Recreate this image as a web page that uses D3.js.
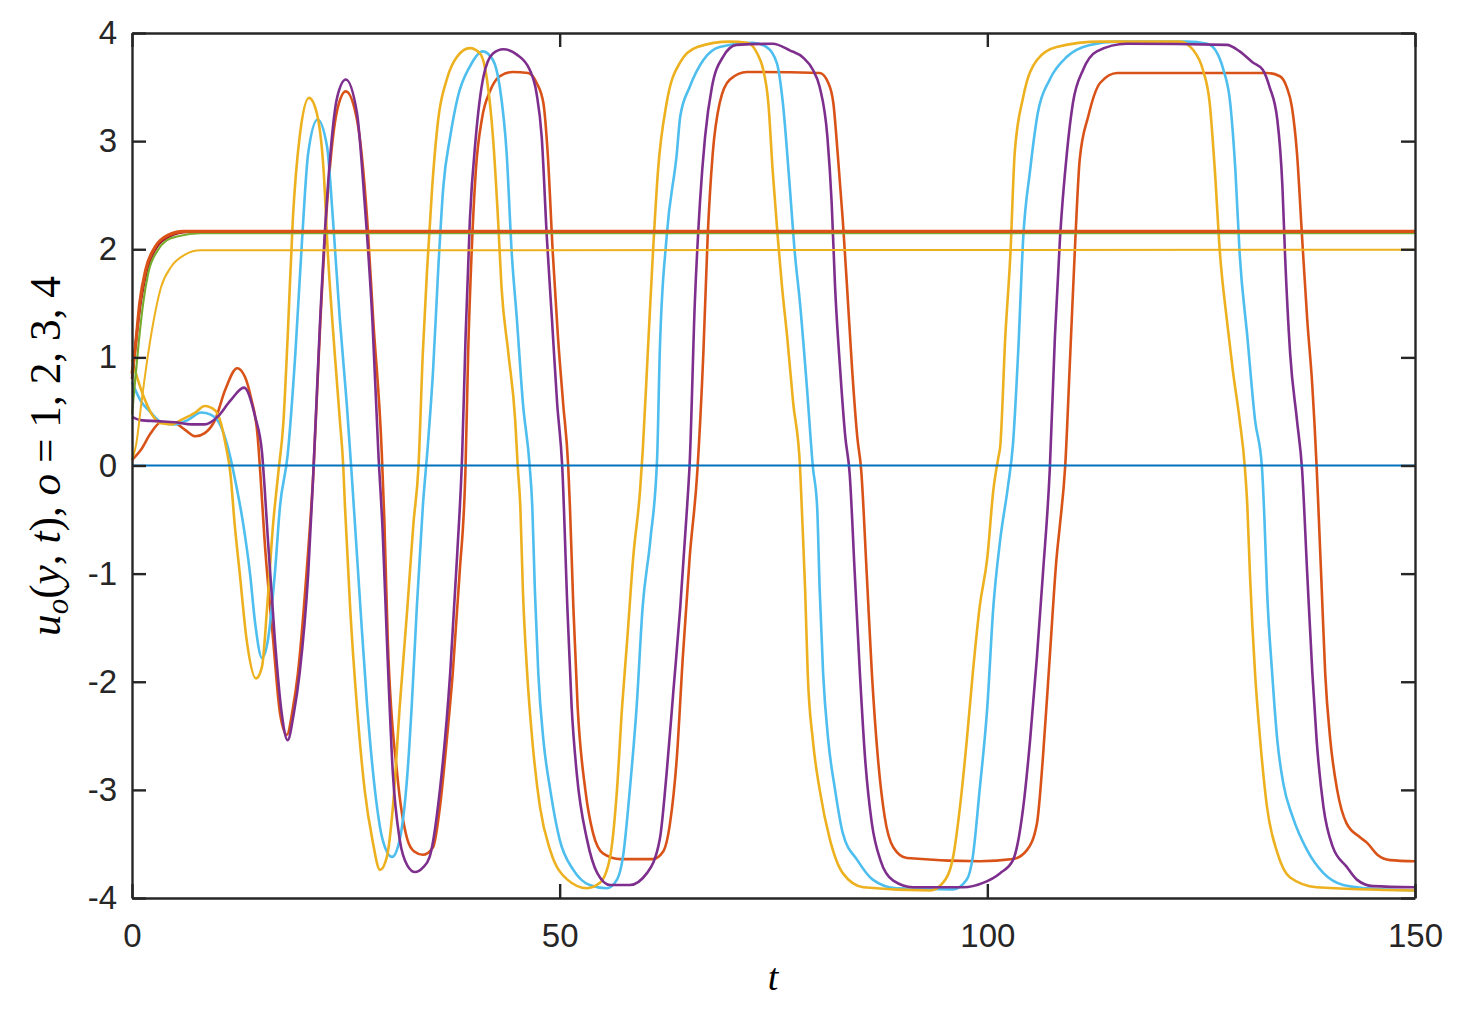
<!DOCTYPE html>
<html><head><meta charset="utf-8">
<script src="https://cdn.jsdelivr.net/npm/d3@7/dist/d3.min.js"></script>
<style>body{margin:0;background:#fff}</style>
</head><body>
<svg id="c" width="1457" height="1022"></svg>
<script>
const xTicks=[0,50,100,150];
const yTicks=[-4,-3,-2,-1,0,1,2,3,4];

const blueZero=[[0,0],[150,0]];
const orangeStatic=[[0,0.85],[0.4,1.1],[0.9,1.5],[1.6,1.81],[2.7,2.02],[4.2,2.13],[6,2.165],[150,2.165]];
const darkRedStatic=[[0,0.8],[0.6,1.25],[1.1,1.55],[1.8,1.82],[2.9,2.02],[4.4,2.12],[6.5,2.16],[150,2.16]];
const greenStatic=[[0,0.47],[0.3,0.73],[0.8,1.15],[1.3,1.5],[1.9,1.78],[3,1.99],[4,2.08],[5.4,2.12],[8,2.148],[150,2.148]];
const yellowStatic=[[0,0.05],[0.5,0.2],[1.1,0.58],[1.9,1.04],[2.7,1.41],[3.4,1.65],[4.6,1.84],[6.2,1.95],[8,1.99],[150,1.995]];

const orangeOsc=[[0,0.05],[1,0.14],[2.2,0.3],[3.4,0.4],[5,0.39],[6.2,0.33],[7.4,0.27],[8.5,0.3],[9.7,0.42],[10.9,0.7],[12.3,0.9],[13.2,0.82],[13.9,0.63],[14.7,0.26],[15,-0.07],[15.5,-0.69],[16.5,-1.61],[17.3,-2.29],[18.1,-2.49],[18.8,-2.25],[19.4,-1.92],[20.4,-1.0],[21.2,-0.07],[22,1.3],[22.9,2.52],[24,3.29],[25,3.46],[26.3,3.2],[27.5,2.27],[28.2,1.35],[29.2,0.12],[29.5,-0.5],[29.9,-1.61],[31,-2.85],[32.2,-3.46],[33,-3.57],[34,-3.6],[35.2,-3.53],[36,-3.16],[36.8,-2.54],[37.5,-1.92],[38.3,-1.0],[39,0.0],[39.3,1.04],[39.7,1.96],[40.2,2.73],[40.9,3.2],[41.9,3.47],[43,3.6],[44.5,3.64],[46.3,3.63],[47.3,3.54],[48.1,3.35],[48.6,2.89],[49.2,1.96],[49.8,1.19],[50.4,0.58],[51,-0.01],[51.2,-0.38],[51.6,-1.31],[52.1,-2.23],[53,-3.0],[53.9,-3.4],[55.1,-3.59],[57.1,-3.64],[60.9,-3.64],[62.1,-3.57],[62.9,-3.31],[63.7,-2.7],[64.4,-1.77],[65.2,-0.85],[66.1,-0.05],[66.8,1.04],[67.3,2.11],[67.9,2.89],[68.7,3.35],[69.9,3.57],[71.9,3.64],[80.4,3.63],[81.4,3.54],[82,3.35],[82.5,2.89],[83.1,2.27],[83.6,1.65],[84.2,0.88],[84.8,0.26],[85.25,-0.04],[85.9,-1.0],[86.5,-1.92],[87.2,-2.7],[88,-3.25],[89,-3.53],[90.6,-3.63],[99.1,-3.66],[103,-3.64],[104.6,-3.56],[105.8,-3.31],[106.5,-2.7],[107.3,-1.77],[108.1,-0.85],[108.5,-0.54],[109.1,-0.01],[109.7,1.04],[110.3,2.11],[110.8,2.83],[111.8,3.23],[113.2,3.54],[115.2,3.63],[132.7,3.63],[134.2,3.6],[135,3.5],[135.6,3.32],[136.2,2.89],[136.8,2.11],[137.4,1.35],[138,0.73],[138.5,-0.01],[138.7,-0.38],[139.1,-1.15],[139.5,-1.92],[140.1,-2.54],[140.9,-3.0],[142,-3.31],[143.6,-3.44],[144.4,-3.49],[145.6,-3.6],[147.1,-3.65],[150,-3.66]];

const cyanOsc=[[0,0.77],[1,0.6],[2.2,0.49],[3.4,0.4],[5,0.38],[6.5,0.42],[8.1,0.49],[9.2,0.47],[10.4,0.36],[11.2,0.17],[12.1,-0.15],[13,-0.54],[13.8,-1.0],[14.4,-1.46],[15.2,-1.78],[15.9,-1.61],[16.7,-1.0],[17.3,-0.38],[18.2,0.1],[19.1,1.04],[19.9,2.11],[20.6,2.89],[21.7,3.2],[22.8,2.95],[23.5,2.27],[24.3,1.35],[25.1,0.58],[25.7,-0.1],[26.7,-1.31],[27.5,-2.23],[28.4,-3.0],[29.3,-3.46],[30.4,-3.62],[31.3,-3.46],[32.2,-2.85],[32.7,-2.23],[33.3,-1.31],[34,-0.38],[34.6,0.2],[35.2,0.88],[35.8,1.81],[36.4,2.58],[37.2,3.04],[38.1,3.41],[39.5,3.69],[41,3.83],[42.2,3.75],[43,3.5],[43.8,2.89],[44.4,1.96],[45,1.35],[45.7,0.58],[46.5,-0.01],[46.8,-0.38],[47.1,-1.15],[47.5,-1.92],[48.1,-2.54],[48.9,-3.0],[50,-3.46],[51.6,-3.74],[53.5,-3.88],[55.5,-3.91],[56.7,-3.83],[57.4,-3.62],[58.2,-3.0],[59,-2.23],[59.7,-1.31],[60.6,-0.69],[61.4,0.08],[61.7,1.04],[62.5,2.11],[63.7,2.89],[64.1,3.23],[65.2,3.5],[66.8,3.75],[68.7,3.87],[72.6,3.91],[74.2,3.87],[75.4,3.72],[76.1,3.35],[76.9,2.58],[77.5,1.96],[78.1,1.5],[78.9,0.73],[79.6,-0.01],[80.1,-0.38],[80.4,-1.15],[80.8,-1.92],[81.4,-2.54],[82.2,-3.0],[83.1,-3.4],[84.8,-3.65],[86.6,-3.83],[89.4,-3.91],[96,-3.92],[97.6,-3.83],[98.3,-3.62],[99.1,-3.0],[100,-2.23],[100.7,-1.31],[101.5,-0.69],[102.4,-0.2],[103,0.2],[103.6,1.04],[104.2,2.11],[105,2.73],[105.9,3.26],[107.3,3.57],[109.3,3.78],[112,3.89],[115.2,3.92],[123.3,3.92],[125.7,3.9],[126.9,3.81],[127.6,3.66],[128.4,3.35],[129,2.73],[129.5,1.96],[130.4,1.19],[131.3,0.42],[132.1,-0.01],[132.4,-0.5],[132.7,-1.15],[133.3,-1.92],[133.9,-2.54],[134.6,-2.94],[135.7,-3.25],[137.4,-3.56],[139.3,-3.77],[141.6,-3.88],[144.4,-3.91],[150,-3.93]];

const yellowOsc=[[0,0.98],[0.7,0.79],[1.5,0.61],[2.2,0.49],[3.4,0.39],[4.6,0.38],[5.7,0.42],[7.4,0.49],[8.5,0.55],[9.7,0.51],[10.4,0.39],[11,0.17],[11.5,-0.07],[12,-0.54],[12.6,-1.0],[13.4,-1.61],[14.5,-1.97],[15.2,-1.86],[15.8,-1.31],[16.5,-0.54],[17.1,-0.07],[17.7,0.4],[18.2,1.19],[18.8,2.27],[19.6,3.04],[20.7,3.4],[21.6,3.26],[22.4,2.73],[22.9,1.96],[23.7,1.04],[24.3,0.42],[24.7,-0.01],[24.9,-0.38],[25.5,-1.31],[26.3,-2.23],[27.2,-3.0],[28.1,-3.46],[29,-3.74],[29.8,-3.62],[30.5,-3.16],[31.3,-2.23],[32.2,-1.31],[32.9,-0.54],[33.5,0.0],[34,1.04],[34.5,1.81],[35.1,2.58],[35.8,3.2],[36.8,3.57],[38,3.78],[39.5,3.86],[40.7,3.81],[41.5,3.57],[42.2,3.04],[42.8,2.27],[43.2,1.65],[44,1.04],[44.8,0.42],[45.1,-0.01],[45.4,-0.38],[45.7,-1.15],[46.2,-1.92],[46.8,-2.54],[47.7,-3.16],[48.9,-3.56],[50.9,-3.83],[53.2,-3.91],[54.7,-3.86],[55.9,-3.62],[56.7,-3.0],[57.3,-2.23],[57.9,-1.61],[58.6,-0.85],[59.4,-0.23],[59.7,0.12],[60.3,1.04],[60.9,1.96],[61.5,2.73],[62.5,3.35],[64.1,3.73],[66.1,3.87],[69.9,3.92],[71.9,3.91],[73.1,3.81],[73.8,3.66],[74.4,3.35],[74.9,2.73],[75.5,2.11],[76,1.65],[76.6,1.19],[77.3,0.58],[78.1,-0.01],[78.3,-0.38],[78.7,-1.15],[79,-1.92],[79.6,-2.54],[80.4,-3.0],[81.6,-3.46],[83.1,-3.77],[85.5,-3.9],[93.3,-3.93],[94.8,-3.86],[96,-3.62],[96.8,-3.16],[97.6,-2.54],[98.3,-1.92],[99.1,-1.31],[100,-0.85],[100.7,-0.23],[101.3,0.08],[101.5,0.17],[102.1,1.19],[102.7,1.96],[103.2,2.89],[104.2,3.41],[105.8,3.75],[108.1,3.87],[113.2,3.92],[122.5,3.92],[124.1,3.84],[125.2,3.66],[126,3.35],[126.6,2.73],[127.2,1.96],[128,1.35],[128.7,0.88],[129.5,0.42],[130.1,-0.01],[130.4,-0.38],[130.7,-1.0],[131.3,-1.92],[131.9,-2.54],[132.7,-3.16],[133.9,-3.58],[135.4,-3.81],[138.5,-3.9],[150,-3.93]];

const purpleOsc=[[0,0.45],[1,0.42],[3,0.41],[5,0.4],[7,0.38],[8.5,0.38],[10,0.45],[11.5,0.6],[13.1,0.72],[14.4,0.45],[15.2,0.12],[15.5,-0.2],[15.9,-0.7],[16.7,-1.61],[17.5,-2.29],[18.2,-2.54],[18.9,-2.3],[19.6,-1.92],[20.6,-1.0],[21.2,-0.07],[22,1.35],[22.9,2.58],[24,3.41],[25,3.57],[26.3,3.26],[27.2,2.43],[28.1,1.35],[28.8,0.12],[29.3,-0.6],[29.8,-1.61],[30.5,-2.85],[31.3,-3.46],[32.2,-3.7],[33.1,-3.76],[34,-3.72],[34.8,-3.62],[36,-3.0],[37.2,-1.92],[38,-0.85],[38.6,0.1],[39,1.19],[39.5,2.27],[40.2,3.04],[41.1,3.6],[42.2,3.81],[43.4,3.85],[45,3.8],[46.5,3.66],[47.3,3.44],[47.9,3.04],[48.5,2.11],[49.1,1.35],[49.7,0.58],[50.3,-0.01],[50.9,-1.31],[51.4,-2.23],[52,-2.85],[53.2,-3.46],[54.4,-3.77],[55.9,-3.88],[58.2,-3.88],[60.2,-3.77],[61.7,-3.46],[62.5,-2.85],[63.3,-2.08],[64.1,-1.31],[64.9,-0.38],[65.2,0.02],[65.8,1.5],[66.4,2.43],[67,3.04],[67.8,3.5],[69.1,3.78],[70.7,3.89],[74.9,3.9],[76.9,3.84],[78.5,3.77],[79.6,3.66],[80.4,3.5],[81.3,3.04],[81.8,2.43],[82.2,1.65],[82.8,0.88],[83.4,0.26],[83.9,-0.07],[84.5,-1.0],[85.1,-1.92],[85.7,-2.7],[86.5,-3.31],[87.5,-3.65],[89,-3.84],[91.3,-3.9],[97.2,-3.9],[99.5,-3.86],[101.5,-3.77],[103,-3.65],[104.2,-3.16],[105,-2.54],[105.8,-1.77],[106.5,-1.0],[107.3,-0.04],[107.9,1.19],[108.5,2.11],[109.3,2.89],[110,3.35],[111.2,3.66],[112.8,3.83],[116.3,3.9],[128,3.89],[129.5,3.83],[131,3.73],[132.2,3.66],[133,3.5],[133.9,3.2],[134.5,2.58],[134.8,1.96],[135.4,1.04],[136.2,0.42],[136.8,-0.04],[137.4,-1.0],[138,-1.92],[138.5,-2.54],[139.3,-3.16],[140.4,-3.53],[142,-3.71],[143.2,-3.83],[145.1,-3.89],[150,-3.9]];

const series=[
  {data:orangeOsc,color:"#D95319",w:2.6},
  {data:cyanOsc,color:"#4DBEEE",w:2.6},
  {data:yellowOsc,color:"#EDB120",w:2.6},
  {data:purpleOsc,color:"#7E2F8E",w:2.6},
  {data:darkRedStatic,color:"#A2142F",w:2.6},
  {data:greenStatic,color:"#77AC30",w:2.2},
  {data:yellowStatic,color:"#EDB120",w:2},
  {data:orangeStatic,color:"#D95319",w:3.2},
  {data:blueZero,color:"#0072BD",w:2}
];

const L=132,R=1415,T=33,B=898;
const svg=d3.select("#c");
const x=d3.scaleLinear().domain([0,150]).range([L,R]);
const y=d3.scaleLinear().domain([-4,4]).range([B,T]);
const line=d3.line().x(d=>x(d[0])).y(d=>y(d[1])).curve(d3.curveMonotoneX);

const g=svg.append("g");
series.forEach(s=>{
  g.append("path").attr("d",line(s.data)).attr("fill","none")
   .attr("stroke",s.color).attr("stroke-width",s.w).attr("stroke-linejoin","round");
});

const axisColor="#262626";
const tl=14;
const font="'Liberation Sans', Arial, Helvetica, sans-serif";
const bx=svg.append("g").attr("transform",`translate(0,${B})`)
  .call(d3.axisBottom(x).tickValues(xTicks).tickSizeInner(-tl).tickSizeOuter(0).tickPadding(26));
const by=svg.append("g").attr("transform",`translate(${L},0)`)
  .call(d3.axisLeft(y).tickValues(yTicks).tickSizeInner(-tl).tickSizeOuter(0).tickPadding(15).tickFormat(d3.format("d")));
const tx=svg.append("g").attr("transform",`translate(0,${T})`)
  .call(d3.axisTop(x).tickValues(xTicks).tickSizeInner(-tl).tickSizeOuter(0).tickFormat(""));
const ry=svg.append("g").attr("transform",`translate(${R},0)`)
  .call(d3.axisRight(y).tickValues(yTicks).tickSizeInner(-tl).tickSizeOuter(0).tickFormat(""));
[bx,by,tx,ry].forEach(a=>{
  a.select(".domain").attr("stroke",axisColor).attr("stroke-width",2.4);
  a.selectAll(".tick line").attr("stroke",axisColor).attr("stroke-width",2.4);
  a.selectAll("text").attr("fill",axisColor).style("font-family",font).style("font-size","33px");
});
by.selectAll(".tick text").text(d=>d<0?"-"+Math.abs(d):String(d));

svg.append("text").attr("x",773).attr("y",990).attr("text-anchor","middle")
  .style("font-family","'Liberation Serif','Times New Roman',serif").style("font-style","italic")
  .style("font-size","38px").attr("fill","#000").text("t");

const yl=svg.append("text").attr("transform","translate(60,456) rotate(-90)").attr("text-anchor","middle")
  .style("font-family","'Liberation Serif','Times New Roman',serif").style("font-size","42px").attr("fill","#000");
yl.append("tspan").style("font-style","italic").text("u");
yl.append("tspan").style("font-style","italic").style("font-size","30px").attr("dy",8).text("o");
yl.append("tspan").attr("dy",-8).text("(");
yl.append("tspan").style("font-style","italic").text("y");
yl.append("tspan").text(", ");
yl.append("tspan").style("font-style","italic").text("t");
yl.append("tspan").text("), ");
yl.append("tspan").style("font-style","italic").text("o");
yl.append("tspan").text(" = 1, 2, 3, 4");
const len=yl.node().getComputedTextLength();
const target=360;
if(len>0){
  const k=target/len;
  yl.style("font-size",(42*k)+"px");
  yl.selectAll("tspan").filter(function(){return this.style.fontSize==="30px";}).style("font-size",(30*k)+"px");
}
</script>
</body></html>
